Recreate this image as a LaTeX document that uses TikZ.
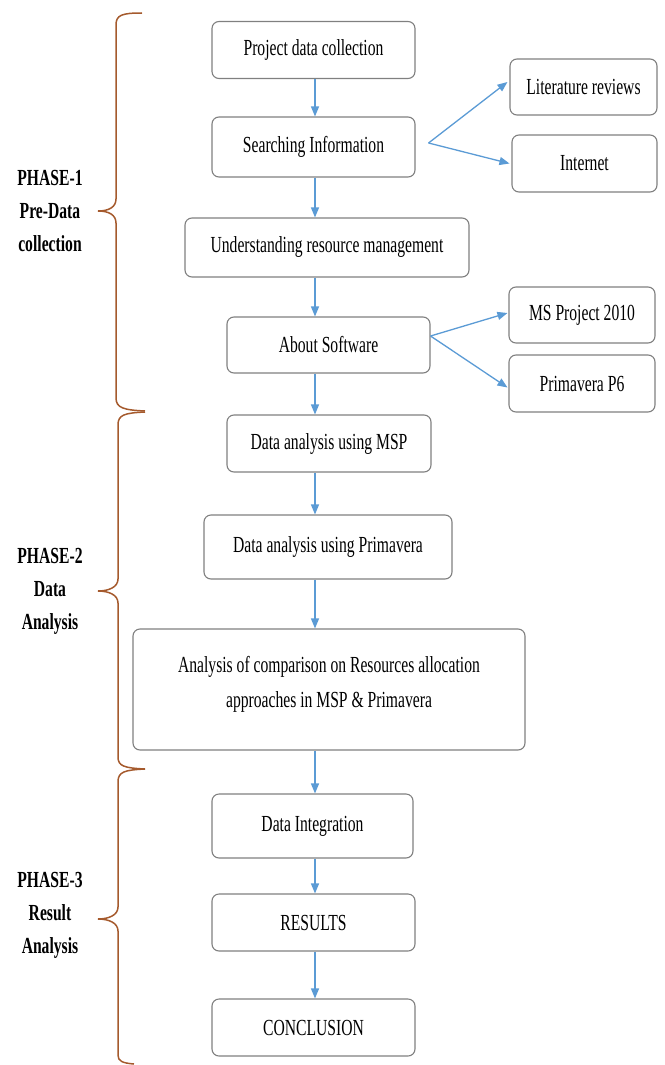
\documentclass[tikz,border=0pt]{standalone}
\usepackage{fontspec}
\setmainfont{Liberation Serif}[FakeStretch=0.68]
\usetikzlibrary{arrows.meta,calc}
\definecolor{boxline}{RGB}{128,128,128}
\definecolor{flowblue}{RGB}{91,155,213}
\definecolor{bracebrown}{RGB}{165,90,45}
\tikzset{
  stepbox/.style={draw=boxline, line width=1.1pt, rounded corners=7pt, fill=white,
    align=center, inner sep=0pt, font=\fontsize{23}{35}\selectfont},
  boxtext/.style={align=center, inner sep=0pt, font=\fontsize{23}{35}\selectfont},
  flow/.style={draw=flowblue, line width=1.3pt, -{Triangle[width=8pt,length=10pt]}},
  bracepath/.style={draw=bracebrown, line width=1.5pt},
  phaselabel/.style={align=center, font=\fontsize{23}{33}\selectfont\bfseries}
}
\begin{document}
\begin{tikzpicture}[x=1pt,y=-1pt]
\useasboundingbox (0,0) rectangle (664,1065);

% main column
\node[stepbox, minimum width=203pt, minimum height=57pt] (pdc) at (313.5,50) {Project data collection};
\node[stepbox, minimum width=203pt, minimum height=60pt] (si) at (313.5,147) {Searching Information};
\node[stepbox, minimum width=284pt, minimum height=59pt] (urm) at (327,247.5) {Understanding resource management};
\node[stepbox, minimum width=203pt, minimum height=56pt] (abs) at (328.5,345) {About Software};
\node[stepbox, minimum width=204pt, minimum height=57pt] (dmsp) at (329,443.5) {Data analysis using MSP};
\node[stepbox, minimum width=248pt, minimum height=64pt] (dprim) at (328,547) {Data analysis using Primavera};
\node[stepbox, minimum width=392pt, minimum height=121pt] (cmp) at (329,689.5) {};
\node[boxtext] (cmptext) at ($(cmp.center)+(0,-5)$)
  {Analysis of comparison on Resources allocation\\approaches in MSP \& Primavera};
\node[stepbox, minimum width=201pt, minimum height=64pt] (dint) at (312.5,826) {Data Integration};
\node[stepbox, minimum width=203pt, minimum height=57pt] (res) at (313.5,922.5) {RESULTS};
\node[stepbox, minimum width=203pt, minimum height=57pt] (con) at (313.5,1027.5) {CONCLUSION};

% side boxes
\node[stepbox, minimum width=147pt, minimum height=56pt] (lit) at (583.5,87) {Literature reviews};
\node[stepbox, minimum width=145pt, minimum height=57pt] (inet) at (584.5,163.5) {Internet};
\node[stepbox, minimum width=146pt, minimum height=56pt] (msp) at (582,315) {MS Project 2010};
\node[stepbox, minimum width=146pt, minimum height=57pt] (p6) at (582,383.5) {Primavera P6};

% vertical flow
\coordinate (ax) at (315,0);
\draw[flow] (pdc.south -| ax) -- (si.north -| ax);
\draw[flow] (si.south -| ax) -- (urm.north -| ax);
\draw[flow] (urm.south -| ax) -- (abs.north -| ax);
\draw[flow] (abs.south -| ax) -- (dmsp.north -| ax);
\draw[flow] (dmsp.south -| ax) -- (dprim.north -| ax);
\draw[flow] (dprim.south -| ax) -- (cmp.north -| ax);
\draw[flow] (cmp.south -| ax) -- (dint.north -| ax);
\draw[flow] (dint.south -| ax) -- (res.north -| ax);
\draw[flow] (res.south -| ax) -- (con.north -| ax);

% branches
\coordinate (sib) at ($(si.east)+(13,-4)$);
\draw[flow] (sib) -- ($(lit.west)+(-2,-5)$);
\draw[flow] (sib) -- ($(inet.west)+(-2,0)$);
\coordinate (absb) at ($(abs.east)+(0,-9)$);
\draw[flow] (absb) -- ($(msp.west)+(-1,-2)$);
\draw[flow] (absb) -- ($(p6.west)+(-1,4)$);

% phase braces
\draw[bracepath] (142,13) .. controls (122,13) and (116,15) .. (116,25) -- (116,199)
  .. controls (116,207) and (109,211) .. (98,211)
  .. controls (109,211) and (116,215) .. (116,223) -- (116,398)
  .. controls (116,408) and (124,410) .. (145,411);
\draw[bracepath] (145,412) .. controls (124,413) and (118,415) .. (118,425) -- (118,579)
  .. controls (118,587) and (109,591) .. (98,591)
  .. controls (109,591) and (118,595) .. (118,603) -- (118,757)
  .. controls (118,766) and (124,768) .. (145,769);
\draw[bracepath] (145,769) .. controls (124,770) and (118,772) .. (118,782) -- (118,907)
  .. controls (118,915) and (109,919) .. (98,919)
  .. controls (109,919) and (118,923) .. (118,931) -- (118,1055)
  .. controls (118,1061) and (122,1063) .. (134,1064);

% phase labels
\node[phaselabel] (ph1) at (50,211) {PHASE-1\\Pre-Data\\collection};
\node[phaselabel] (ph2) at (50,591) {PHASE-2\\Data\\Analysis};
\node[phaselabel] (ph3) at (50,915) {PHASE-3\\Result\\Analysis};
\end{tikzpicture}
\end{document}
